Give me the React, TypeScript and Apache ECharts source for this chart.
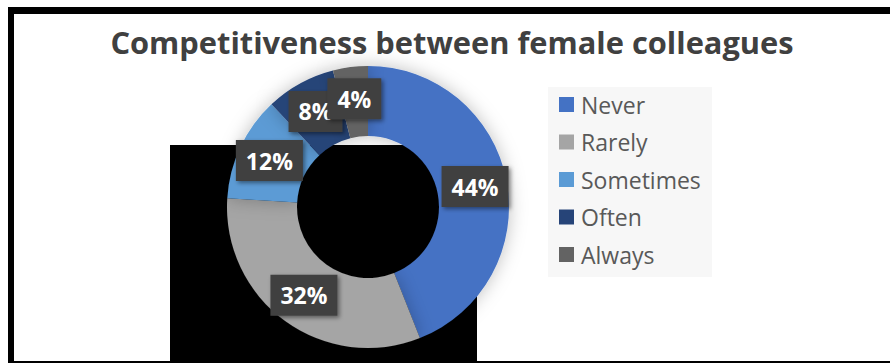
import React, { useEffect, useRef } from "react";
import * as echarts from "echarts";

const titleText = "Competitiveness between female colleagues";
const categories = ["Never", "Rarely", "Sometimes", "Often", "Always"];
const values = [44, 32, 12, 8, 4];
const colors = ["#4472C4", "#A5A5A5", "#5B9BD5", "#264478", "#636363"];

export default function App() {
  const ref = useRef<HTMLDivElement>(null);
  useEffect(() => {
    if (!ref.current) return;
    const chart = echarts.init(ref.current, undefined, { renderer: "svg" });
    chart.setOption({
      animation: false,
      backgroundColor: "#ffffff",
      graphic: [
        { type: "rect", z: 0, shape: { x: 8, y: 7, width: 882, height: 7 }, style: { fill: "#000" } },
        { type: "rect", z: 0, shape: { x: 8, y: 7, width: 6, height: 356 }, style: { fill: "#000" } },
        { type: "rect", z: 0, shape: { x: 8, y: 361, width: 882, height: 2 }, style: { fill: "#000" } },
        { type: "rect", z: 0, shape: { x: 170, y: 145, width: 307, height: 218 }, style: { fill: "#000" } },
        { type: "rect", z: 0, shape: { x: 548, y: 87, width: 164, height: 190 }, style: { fill: "#f7f7f7" } },
        {
          type: "text",
          z: 5,
          style: {
            text: titleText,
            x: 452,
            y: 42,
            textAlign: "center",
            textVerticalAlign: "middle",
            fontFamily: "Open Sans",
            fontWeight: "bold",
            fontSize: 30.8,
            fill: "#404040",
          },
        },
      ],
      legend: {
        orient: "vertical",
        left: 559,
        top: 93,
        padding: 0,
        z: 5,
        itemWidth: 15,
        itemHeight: 15,
        itemGap: 14.5,
        icon: "rect",
        data: categories,
        textStyle: { fontFamily: "Open Sans", fontSize: 23, color: "#595959", lineHeight: 22, padding: [0, 0, 0, 2] },
      },
      series: [
        {
          type: "pie",
          center: [368, 207],
          radius: [71, 141],
          startAngle: 90,
          clockwise: true,
          avoidLabelOverlap: false,
          labelLayout: { hideOverlap: false },
          itemStyle: { shadowBlur: 18, shadowColor: "rgba(0,0,0,0.25)" },
          label: {
            show: true,
            position: "inside",
            formatter: "{c}%",
            color: "#ffffff",
            fontFamily: "Open Sans",
            fontWeight: "bold",
            fontSize: 23,
            lineHeight: 25,
            backgroundColor: "#404040",
            padding: [8, 10],
            shadowBlur: 4,
            shadowOffsetX: 2,
            shadowOffsetY: 2,
            shadowColor: "rgba(0,0,0,0.45)",
          },
          labelLine: { show: false },
          data: categories.map((name, i) => ({ name, value: values[i], itemStyle: { color: colors[i] } })),
        },
      ],
    });
    return () => chart.dispose();
  }, []);
  return <div ref={ref} style={{ position: "absolute", left: 0, top: 0, width: 890, height: 363 }} />;
}
